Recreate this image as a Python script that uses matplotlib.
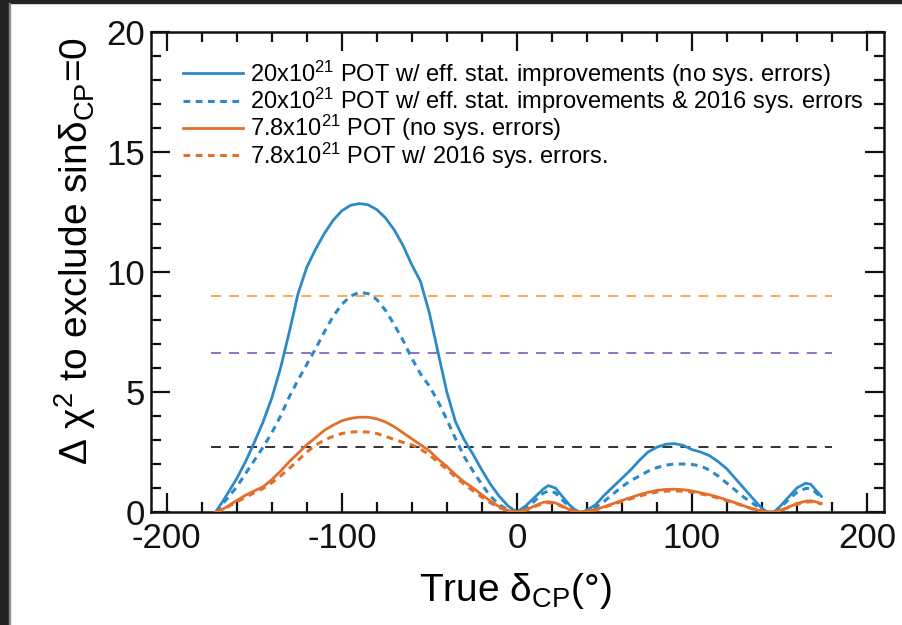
import matplotlib
matplotlib.use("Agg")
import matplotlib.pyplot as plt
from matplotlib.patches import Rectangle

plt.rcParams['font.family'] = ['Liberation Sans', 'DejaVu Sans']
plt.rcParams['mathtext.fontset'] = 'custom'
plt.rcParams['mathtext.rm'] = 'Liberation Sans'
plt.rcParams['mathtext.it'] = 'Liberation Sans:italic'
plt.rcParams['mathtext.bf'] = 'Liberation Sans:bold'
plt.rcParams['axes.unicode_minus'] = False

# True delta_CP grid (degrees)
delta_cp = [-172, -168, -165, -160, -155, -150, -145, -140, -135, -130, -125, -120,
            -115, -110, -105, -100, -95, -90, -85, -80, -75, -70, -65, -60, -55, -50,
            -45, -40, -35, -30, -25, -20, -15, -10, -5, 0,
            5, 10, 15, 18, 22, 26, 30, 33, 36, 38,
            45, 50, 55, 60, 65, 70, 75, 80, 85, 90, 95, 100, 105, 110, 115, 120, 125,
            130, 135, 140, 143,
            147, 150, 155, 160, 165, 168, 171, 174]

# 20x10^21 POT with efficiency/stat improvements, no systematics
chi2_20e21_nosys = [0, 0.45, 0.8, 1.4, 2.1, 2.9, 3.75, 4.75, 6.0, 7.5, 9.1, 10.2,
                    10.95, 11.6, 12.15, 12.55, 12.78, 12.85, 12.8, 12.6, 12.25, 11.75, 11.1, 10.3, 9.6, 8.3,
                    6.65, 5.0, 3.75, 3.0, 2.4, 1.75, 1.15, 0.65, 0.25, 0,
                    0.25, 0.6, 0.95, 1.1, 1.0, 0.65, 0.3, 0.1, 0, 0,
                    0.3, 0.7, 1.05, 1.4, 1.75, 2.15, 2.5, 2.7, 2.82, 2.85, 2.78, 2.6, 2.5, 2.35, 2.1, 1.8, 1.38,
                    0.97, 0.55, 0.15, 0,
                    0, 0.2, 0.6, 1.0, 1.2, 1.15, 0.9, 0.65]

# 20x10^21 POT with efficiency/stat improvements and 2016 systematics
chi2_20e21_sys = [0, 0.35, 0.6, 1.05, 1.6, 2.15, 2.7, 3.3, 4.0, 4.8, 5.5, 6.15,
                  6.8, 7.5, 8.15, 8.65, 9.0, 9.15, 9.1, 8.85, 8.4, 7.8, 7.15, 6.4, 5.75, 5.25,
                  4.6, 3.85, 3.05, 2.3, 1.7, 1.15, 0.65, 0.3, 0.08, 0,
                  0.15, 0.45, 0.78, 0.88, 0.8, 0.5, 0.22, 0.08, 0, 0,
                  0.2, 0.45, 0.75, 1.05, 1.3, 1.5, 1.7, 1.85, 1.95, 2.0, 2.0, 1.98, 1.92, 1.75, 1.5, 1.2, 0.9,
                  0.6, 0.35, 0.1, 0,
                  0, 0.15, 0.5, 0.82, 0.98, 0.98, 0.8, 0.6]

# 7.8x10^21 POT, no systematics
chi2_78e20_nosys = [0, 0.12, 0.25, 0.48, 0.7, 0.88, 1.05, 1.35, 1.7, 2.1, 2.45, 2.8,
                    3.1, 3.4, 3.62, 3.8, 3.9, 3.95, 3.95, 3.88, 3.75, 3.55, 3.3, 3.05, 2.8, 2.55,
                    2.2, 1.9, 1.55, 1.25, 1.0, 0.72, 0.45, 0.22, 0.06, 0,
                    0.08, 0.25, 0.4, 0.43, 0.38, 0.25, 0.1, 0.03, 0, 0,
                    0.1, 0.22, 0.35, 0.48, 0.6, 0.72, 0.82, 0.9, 0.94, 0.95, 0.93, 0.88, 0.8, 0.72, 0.62, 0.5, 0.38,
                    0.25, 0.13, 0.04, 0,
                    0, 0.05, 0.2, 0.35, 0.45, 0.47, 0.42, 0.35]

# 7.8x10^21 POT with 2016 systematics
chi2_78e20_sys = [0, 0.1, 0.22, 0.42, 0.62, 0.8, 0.98, 1.22, 1.5, 1.82, 2.15, 2.5,
                  2.78, 3.0, 3.15, 3.27, 3.33, 3.35, 3.33, 3.27, 3.15, 3.02, 2.9, 2.8, 2.62, 2.38,
                  2.08, 1.78, 1.45, 1.15, 0.88, 0.62, 0.38, 0.18, 0.05, 0,
                  0.07, 0.22, 0.36, 0.39, 0.35, 0.22, 0.09, 0.03, 0, 0,
                  0.09, 0.2, 0.32, 0.44, 0.55, 0.66, 0.76, 0.83, 0.87, 0.88, 0.87, 0.83, 0.76, 0.68, 0.58, 0.47, 0.36,
                  0.24, 0.12, 0.04, 0,
                  0, 0.05, 0.18, 0.32, 0.41, 0.43, 0.4, 0.33]

# Significance thresholds drawn as horizontal reference lines
threshold_levels = [9.0, 6.63, 2.71]
threshold_colors = ['#ff9d45', '#8a63c2', '#222222']
threshold_span = [-175, 180]

legend_labels = [
    r'20x10$^{21}$ POT w/ eff. stat. improvements (no sys. errors)',
    r'20x10$^{21}$ POT w/ eff. stat. improvements & 2016 sys. errors',
    r'7.8x10$^{21}$ POT (no sys. errors)',
    r'7.8x10$^{21}$ POT w/ 2016 sys. errors.',
]

BLUE = '#2d8ac8'
ORANGE = '#e2702a'

W, H = 903, 625
fig = plt.figure(figsize=(W / 100, H / 100), dpi=100)
x0, x1, y_top, y_bot = 150.7, 884.0, 32.0, 512.0
ax = fig.add_axes([x0 / W, 1 - y_bot / H, (x1 - x0) / W, (y_bot - y_top) / H])

for lvl, col in zip(threshold_levels, threshold_colors):
    ax.plot(threshold_span, [lvl, lvl], color=col, lw=1.3, ls=(0, (5.5, 4.5)), zorder=2)

ax.plot(delta_cp, chi2_20e21_nosys, color=BLUE, lw=2.0, label=legend_labels[0], zorder=3)
ax.plot(delta_cp, chi2_20e21_sys, color=BLUE, lw=2.2, ls=(0, (2.2, 1.8)), label=legend_labels[1], zorder=3)
ax.plot(delta_cp, chi2_78e20_nosys, color=ORANGE, lw=2.0, label=legend_labels[2], zorder=3)
ax.plot(delta_cp, chi2_78e20_sys, color=ORANGE, lw=2.2, ls=(0, (2.2, 1.8)), label=legend_labels[3], zorder=3)

ax.set_xlim(-209.2, 209.8)
ax.set_ylim(0, 20)
ax.set_xticks([-200, -100, 0, 100, 200])
ax.set_xticks(range(-200, 201, 20), minor=True)
ax.set_yticks([0, 5, 10, 15, 20])
ax.set_yticks(range(0, 21), minor=True)
ax.tick_params(which='both', direction='in', top=True, right=True, width=1.6, colors='#111111')
ax.tick_params(which='major', length=14, labelsize=25)
ax.tick_params(axis='x', which='major', pad=7)
ax.tick_params(axis='y', which='major', pad=4)
ax.tick_params(which='minor', length=7)
for s in ax.spines.values():
    s.set_linewidth(1.8)
    s.set_color('#111111')

fig.text(75 / W, 1 - 251 / H, r'Δ χ$^{2}$ to exclude sinδ$_{\rm CP}$=0',
         rotation=90, ha='center', va='center', fontsize=28)
fig.text(515 / W, 1 - 591 / H, r'True δ$_{\rm CP}$(°)', ha='center', va='center', fontsize=28)

leg = ax.legend(loc='upper left', bbox_to_anchor=(0.044, 0.945), frameon=False,
                fontsize=17, handlelength=2.55, handletextpad=0.28, labelspacing=-0.12,
                borderpad=0, borderaxespad=0)

# dark window frame along the top and left edges
fig.patches.append(Rectangle((0, 1 - 3 / H), 1, 3 / H, transform=fig.transFigure,
                             color='#232323', zorder=10))
fig.patches.append(Rectangle((0, 0), 9 / W, 1, transform=fig.transFigure,
                             color='#232323', zorder=10))
fig.patches.append(Rectangle((9 / W, 0), 1.2 / W, 1 - 3 / H, transform=fig.transFigure,
                             color='#8a8a8a', zorder=10))

fig.savefig('out.png', dpi=100)
